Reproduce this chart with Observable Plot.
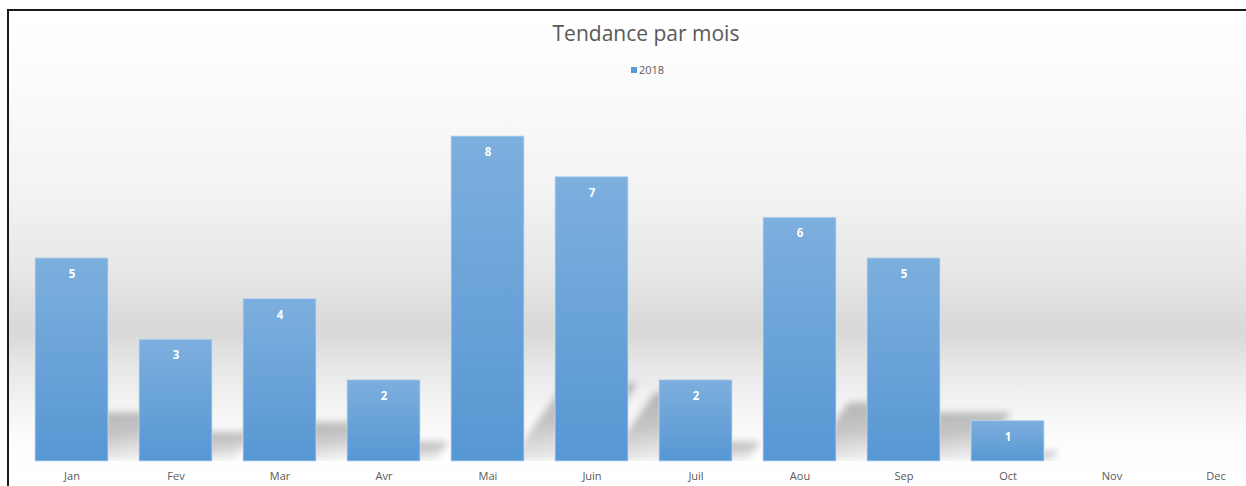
<!DOCTYPE html>
<html><head><meta charset="utf-8">
<script src="https://cdn.jsdelivr.net/npm/d3@7"></script>
<script src="https://cdn.jsdelivr.net/npm/@observablehq/plot@0.6"></script>
<style>
body{margin:0;background:#fff;}
#wrap{position:relative;width:1246px;height:486px;overflow:hidden;font-family:"Open Sans",sans-serif;}
#frame{position:absolute;left:7px;top:9px;width:1300px;height:490px;border-top:2.5px solid #1a1a1a;border-left:2.5px solid #1a1a1a;
background:linear-gradient(to bottom,#ffffff 0px,#fcfcfc 60px,#f3f3f3 180px,#e6e6e6 265px,#d8d8d8 320px,#e8e8e8 358px,#f5f5f5 398px,#fdfdfd 434px,#ffffff 470px);}
#plot{position:absolute;left:0;top:0;}
#title{position:absolute;left:0;width:1292px;top:19px;text-align:center;font-size:21px;color:#595959;line-height:normal;}
#legend{position:absolute;left:631px;top:62px;font-size:11px;color:#595959;line-height:normal;white-space:nowrap;}
#legend span.sw{display:inline-block;width:6px;height:6px;background:#5b9bd5;margin-right:2px;vertical-align:1px;}
</style></head>
<body>
<div id="wrap">
  <div id="frame"></div>
  <div id="plot"></div>
  <div id="title"></div>
  <div id="legend"></div>
</div>
<script>
const chartTitle = "Tendance par mois";
const seriesName = "2018";
const months = ["Jan","Fev","Mar","Avr","Mai","Juin","Juil","Aou","Sep","Oct","Nov","Dec"];
const counts = [5,3,4,2,8,7,2,6,5,1,null,null];

const data = months.map((m,i)=>({month:m, value:counts[i]})).filter(d=>d.value!=null);

document.getElementById("title").textContent = chartTitle;
document.getElementById("legend").innerHTML = '<span class="sw"></span>' + seriesName;

function shadows(index, scales) {
  const {x, y} = scales;
  const g = d3.create("svg:g");
  const defs = g.append("defs");
  const f = defs.append("filter").attr("id","shblur").attr("x","-50%").attr("y","-50%").attr("width","200%").attr("height","200%");
  f.append("feGaussianBlur").attr("stdDeviation", 3.5);
  const lg = defs.append("linearGradient").attr("id","barGrad").attr("x1",0).attr("y1",0).attr("x2",0).attr("y2",1);
  lg.append("stop").attr("offset","0%").attr("stop-color","#7dafde");
  lg.append("stop").attr("offset","100%").attr("stop-color","#5797d3");
  const sgrad = defs.append("linearGradient").attr("id","shGrad").attr("x1",0).attr("y1",0).attr("x2",0.35).attr("y2",1);
  sgrad.append("stop").attr("offset","0%").attr("stop-color","#000").attr("stop-opacity",0.27);
  sgrad.append("stop").attr("offset","55%").attr("stop-color","#000").attr("stop-opacity",0.21);
  sgrad.append("stop").attr("offset","100%").attr("stop-color","#000").attr("stop-opacity",0.06);
  const base = y(0);
  const step = x(months[1]) - x(months[0]);
  const bw = x.bandwidth ? x.bandwidth() : step * 0.7;
  defs.append("clipPath").attr("id","shclip").append("rect")
    .attr("x",0).attr("y",0).attr("width",2000).attr("height",base);
  const sg = g.append("g").attr("clip-path","url(#shclip)");
  for (const d of data) {
    const x0 = x(d.month), h = base - y(d.value);
    const dy = 0.24*h, off = 0.18*h, dxt = 0.35*h;
    sg.append("path")
      .attr("d", `M${x0+off},${base}L${x0+bw+off},${base}L${x0+bw+dxt},${base-dy}L${x0+dxt},${base-dy}Z`)
      .attr("fill","url(#shGrad)").attr("filter","url(#shblur)");
  }
  return g.node();
}

const chart = Plot.plot({
  width: 1246,
  height: 486,
  margin: 0,
  style: {background: "transparent", fontFamily: "Open Sans, sans-serif"},
  x: {domain: months, range: [1.7, 1285], padding: 0.3, axis: null},
  y: {domain: [0, 8], range: [461, 136], axis: null},
  marks: [
    shadows,
    Plot.barY(data, {x: "month", y: "value", fill: "url(#barGrad)", stroke: "#c4dbf0", strokeWidth: 1, strokeOpacity: 0.8}),
    Plot.text(data, {x: "month", y: "value", text: d => String(d.value), dy: 16, fill: "white", fontWeight: "bold", fontSize: 11.5}),
    Plot.text(months, {x: d => d, y: () => 0, dy: 15, fill: "#595959", fontSize: 11})
  ]
});
document.getElementById("plot").appendChild(chart);
</script>
</body></html>
